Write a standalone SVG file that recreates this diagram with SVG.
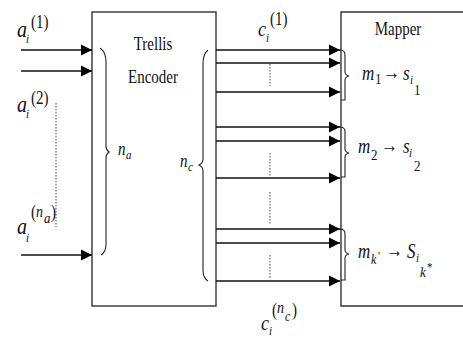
<svg xmlns="http://www.w3.org/2000/svg" width="463" height="338" viewBox="0 0 463 338">
<style>
.box{fill:none;stroke:#333;stroke-width:1.4}
.ln{fill:none;stroke:#111;stroke-width:1.6}
.dot{fill:none;stroke:#444;stroke-width:1;stroke-dasharray:1.5 1.5}
.br{fill:none;stroke:#222;stroke-width:1.1}
text{font-family:"Liberation Serif","DejaVu Serif","Times New Roman",serif;fill:#111}
.it{font-style:italic}
</style>
<defs>
<marker id="ah" markerUnits="userSpaceOnUse" markerWidth="12" markerHeight="12" refX="11" refY="6" orient="auto">
<path d="M0,0.5 L11,6 L0,11.5 Z" fill="#000"/>
</marker>
</defs>
<rect width="463" height="338" fill="#fff"/>
<g id="encoder">
<rect class="box" x="92" y="12" width="124" height="294"/>
<text transform="translate(153,50) scale(1,1.2)" font-size="15" text-anchor="middle">Trellis</text>
<text transform="translate(153,83) scale(1,1.2)" font-size="15" text-anchor="middle">Encoder</text>
<path class="br" d="M100,48 Q106,52 106,62 L106,146 Q106,150 109,152 Q106,154 106,158 L106,244 Q106,252 101,255"/>
<path class="br" d="M208,50 Q203,54 203,64 L203,159 Q203,163 199,165 Q203,167 203,171 L203,270 Q203,278 208,281"/>
<text class="it" transform="translate(118,155) scale(1,1.2)" font-size="15">n</text>
<text class="it" transform="translate(126,159) scale(1,1.2)" font-size="11">a</text>
<text class="it" transform="translate(180,167) scale(1,1.2)" font-size="15">n</text>
<text class="it" transform="translate(188,171) scale(1,1.2)" font-size="11">c</text>
</g>
<g id="mapper">
<path class="box" d="M470,12 L341,12 L341,306 L470,306"/>
<text transform="translate(398,35) scale(1,1.2)" font-size="15" text-anchor="middle">Mapper</text>
<path class="br" d="M340,50 Q345,50 345,55 L345,72 Q345,75 349,76 Q345,77 345,80 L345,100 L341,100"/>
<path class="br" d="M340,127 Q345,127 345,132 L345,149 Q345,152 349,153 Q345,154 345,157 L345,177 L341,177"/>
<path class="br" d="M340,229 Q345,229 345,234 L345,250 Q345,253 349,254 Q345,255 345,258 L345,280 L341,280"/>
<text class="it" transform="translate(362,80) scale(1,1.2)" font-size="17">m</text>
<text transform="translate(375,84) scale(1,1.2)" font-size="13">1</text>
<text transform="translate(383,79) scale(1,1.2)" font-size="17">→</text>
<text class="it" transform="translate(403,80) scale(1,1.2)" font-size="17">s</text>
<text class="it" transform="translate(410,84) scale(1,1.2)" font-size="11">i</text>
<text transform="translate(414,95) scale(1,1.2)" font-size="13">1</text>
<text class="it" transform="translate(358,153) scale(1,1.2)" font-size="17">m</text>
<text transform="translate(371,160) scale(1,1.2)" font-size="13">2</text>
<text transform="translate(381,152) scale(1,1.2)" font-size="17">→</text>
<text class="it" transform="translate(403,153) scale(1,1.2)" font-size="17">s</text>
<text class="it" transform="translate(409,157) scale(1,1.2)" font-size="11">i</text>
<text transform="translate(414,171) scale(1,1.2)" font-size="13">2</text>
<text class="it" transform="translate(358,258) scale(1,1.2)" font-size="17">m</text>
<text class="it" transform="translate(371,264) scale(1,1.2)" font-size="12">k</text>
<text transform="translate(378,260) scale(1,1.2)" font-size="11">'</text>
<text transform="translate(386,257) scale(1,1.2)" font-size="17">→</text>
<text class="it" transform="translate(407,258) scale(1,1.2)" font-size="17">S</text>
<text class="it" transform="translate(416,262) scale(1,1.2)" font-size="11">i</text>
<text class="it" transform="translate(420,277) scale(1,1.2)" font-size="13">k</text>
<text transform="translate(427,271) scale(1,1.2)" font-size="11">*</text>
</g>
<g id="connectors">
<line class="ln" x1="21" y1="50" x2="92" y2="50" marker-end="url(#ah)"/>
<line class="ln" x1="21" y1="71" x2="92" y2="71" marker-end="url(#ah)"/>
<line class="ln" x1="21" y1="255" x2="92" y2="255" marker-end="url(#ah)"/>
<line class="dot" x1="56" y1="103" x2="56" y2="227"/>
<line class="ln" x1="216" y1="50" x2="340" y2="50" marker-end="url(#ah)"/>
<line class="ln" x1="216" y1="63" x2="340" y2="63" marker-end="url(#ah)"/>
<line class="ln" x1="216" y1="92" x2="340" y2="92" marker-end="url(#ah)"/>
<line class="ln" x1="216" y1="127" x2="340" y2="127" marker-end="url(#ah)"/>
<line class="ln" x1="216" y1="141" x2="340" y2="141" marker-end="url(#ah)"/>
<line class="ln" x1="216" y1="178" x2="340" y2="178" marker-end="url(#ah)"/>
<line class="ln" x1="216" y1="229" x2="340" y2="229" marker-end="url(#ah)"/>
<line class="ln" x1="216" y1="243" x2="340" y2="243" marker-end="url(#ah)"/>
<line class="ln" x1="216" y1="281" x2="340" y2="281" marker-end="url(#ah)"/>
<line class="dot" x1="270" y1="64" x2="270" y2="86"/>
<line class="dot" x1="270" y1="153" x2="270" y2="177"/>
<line class="dot" x1="270" y1="192" x2="270" y2="225"/>
<line class="dot" x1="270" y1="255" x2="270" y2="278"/>
</g>
<g id="labels">
<text class="it" transform="translate(17,37) scale(1,1.2)" font-size="20">a</text>
<text class="it" transform="translate(26,43) scale(1,1.2)" font-size="11">i</text>
<text transform="translate(31,28) scale(1,1.2)" font-size="15">(1)</text>
<text class="it" transform="translate(17,112) scale(1,1.2)" font-size="20">a</text>
<text class="it" transform="translate(26,118) scale(1,1.2)" font-size="11">i</text>
<text transform="translate(31,104) scale(1,1.2)" font-size="15">(2)</text>
<text class="it" transform="translate(17,234) scale(1,1.2)" font-size="20">a</text>
<text class="it" transform="translate(26,242) scale(1,1.2)" font-size="11">i</text>
<text transform="translate(31,218) scale(1,1.2)" font-size="15">(</text>
<text class="it" transform="translate(36,217) scale(1,1.2)" font-size="14">n</text>
<text class="it" transform="translate(44,223) scale(1,1.2)" font-size="13">a</text>
<text transform="translate(51,218) scale(1,1.2)" font-size="15">)</text>
<text class="it" transform="translate(258,36) scale(1,1.2)" font-size="18">c</text>
<text class="it" transform="translate(266,42) scale(1,1.2)" font-size="11">i</text>
<text transform="translate(270,25) scale(1,1.2)" font-size="15">(1)</text>
<text class="it" transform="translate(261,330) scale(1,1.2)" font-size="18">c</text>
<text class="it" transform="translate(269,335) scale(1,1.2)" font-size="11">i</text>
<text transform="translate(272,316) scale(1,1.2)" font-size="15">(</text>
<text class="it" transform="translate(277,313) scale(1,1.2)" font-size="14">n</text>
<text class="it" transform="translate(285,321) scale(1,1.2)" font-size="12">c</text>
<text transform="translate(292,316) scale(1,1.2)" font-size="15">)</text>
</g>
</svg>
